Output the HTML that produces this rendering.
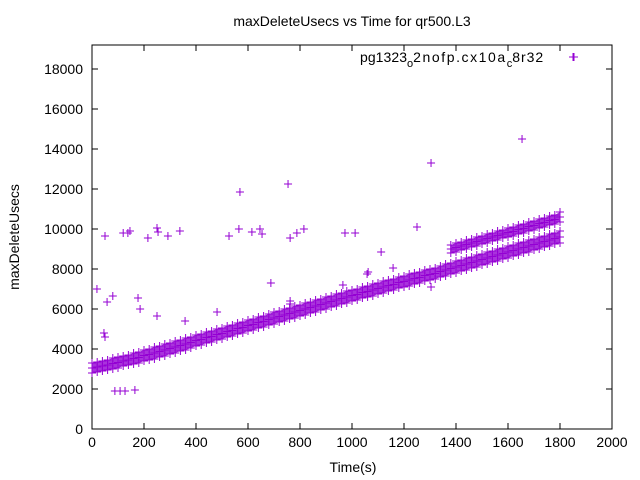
<!DOCTYPE html>
<html><head><meta charset="utf-8"><style>
body{margin:0;background:#fff}
svg{display:block;font-family:"Liberation Sans",sans-serif}
</style></head><body>
<svg id="c" width="640" height="480" viewBox="0 0 640 480">
<rect width="640" height="480" fill="#fff"/>
<text x="352" y="26" font-size="14" text-anchor="middle">maxDeleteUsecs vs Time for qr500.L3</text>
<text x="353" y="472" font-size="14" text-anchor="middle">Time(s)</text>
<text transform="translate(19,237) rotate(-90)" font-size="14" text-anchor="middle">maxDeleteUsecs</text>
<g id="ax"></g>
<g id="marks"></g>
<g>
<text x="360" y="62" font-size="14"><tspan textLength="47">pg1323</tspan><tspan font-size="11" dy="5">o</tspan><tspan dy="-5" textLength="92">2nofp.cx10a</tspan><tspan font-size="11" dy="5">c</tspan><tspan dy="-5" textLength="31">8r32</tspan></text>
<path d="M570,57h8M574,53v8" stroke="#9400d3" stroke-width="1"/>
</g>
</svg>
<script>
const xTicks=[0,200,400,600,800,1000,1200,1400,1600,1800,2000];
const yTicks=[0,2000,4000,6000,8000,10000,12000,14000,16000,18000];
const bandT=[0,20,40,60,80,100,120,140,160,180,200,220,240,260,280,300,320,340,360,380,400,420,440,460,480,500,520,540,560,580,600,620,640,660,680,700,720,740,760,780,800,820,840,860,880,900,920,940,960,980,1000,1020,1040,1060,1080,1100,1120,1140,1160,1180,1200,1220,1240,1260,1280,1300,1320,1340,1360,1380,1400,1420,1440,1460,1480,1500,1520,1540,1560,1580,1600,1620,1640,1660,1680,1700,1720,1740,1760,1780,1800];
const bandLo=[2800,2850,2900,2950,3000,3050,3150,3200,3250,3300,3400,3450,3500,3600,3650,3750,3800,3900,3950,4050,4150,4200,4300,4350,4450,4500,4600,4650,4750,4800,4900,4950,5050,5100,5200,5250,5350,5400,5500,5550,5650,5700,5800,5850,5950,6000,6100,6150,6250,6300,6400,6450,6550,6600,6650,6750,6800,6900,6950,7050,7100,7150,7250,7300,7400,7450,7500,7600,7650,7750,7800,7900,7950,8050,8100,8200,8250,8350,8400,8500,8550,8650,8700,8800,8850,8950,9000,9100,9150,9250,9300];
const bandHi=[3300,3350,3400,3450,3550,3600,3650,3700,3800,3850,3950,4000,4100,4150,4250,4300,4400,4450,4550,4600,4700,4750,4850,4900,5000,5050,5150,5200,5300,5350,5450,5500,5600,5650,5750,5850,5900,6000,6050,6150,6200,6300,6350,6450,6500,6600,6650,6750,6800,6900,6950,7000,7100,7150,7250,7300,7400,7450,7500,7600,7650,7750,7800,7850,7950,8000,8050,8150,8250,8300,8400,8450,8550,8600,8700,8750,8850,8900,9000,9050,9150,9200,9300,9350,9450,9500,9600,9650,9750,9800,9900];
const upT=[1380,1400,1420,1440,1460,1480,1500,1520,1540,1560,1580,1600,1620,1640,1660,1680,1700,1720,1740,1760,1780,1800];
const upLo=[8800,8850,8950,9000,9100,9150,9250,9300,9400,9450,9550,9600,9650,9750,9800,9900,9950,10050,10100,10200,10250,10350];
const upHi=[9200,9300,9350,9450,9500,9600,9650,9750,9800,9900,9950,10050,10100,10200,10250,10350,10400,10500,10550,10650,10700,10850];
const outT=[50,19,58,80,46,50,88,108,127,165,120,138,146,177,185,215,254,250,250,292,338,358,527,565,569,615,646,654,688,754,762,788,815,973,1012,1112,1062,1058,1158,1250,1304,1304,1654,481,762,762,965,1850];
const outV=[9650,7000,6350,6650,4800,4600,1900,1900,1900,1950,9800,9800,9900,6550,6000,9550,9850,10050,5650,9650,9900,5400,9650,10000,11850,9850,10000,9750,7300,12250,9550,9800,10000,9800,9800,8850,7850,7750,8050,10100,13300,7100,14500,5850,6400,6250,7200,18600];
const X0=92,X1=612,Y0=429,Y1=45;
const xs=t=>X0+t*(X1-X0)/2000;
const ys=v=>Y0-v*(Y0-69)/18000;
const NS='http://www.w3.org/2000/svg';
const ax=document.getElementById('ax'),mk=document.getElementById('marks');
function el(tag,attrs,parent){const e=document.createElementNS(NS,tag);for(const k in attrs)e.setAttribute(k,attrs[k]);parent.appendChild(e);return e;}
const fr=el('rect',{x:X0,y:Y1,width:X1-X0,height:Y0-Y1,fill:'none',stroke:'#000','stroke-width':1},ax);


xTicks.forEach(t=>{const x=xs(t);
 const p=el('path',{d:`M${x},${Y0}v-6M${x},${Y1}v6`,stroke:'#000'},ax);
 
 
 const tx=el('text',{x:x,y:Y0+18,'font-size':14,'text-anchor':'middle'},ax);tx.textContent=t;
 
 });
yTicks.forEach(v=>{const y=ys(v);
 const p=el('path',{d:`M${X0},${y}h6M${X1},${y}h-6`,stroke:'#000'},ax);
 
 
 const tx=el('text',{x:X0-9,y:y+5,'font-size':14,'text-anchor':'end'},ax);tx.textContent=v;
 
 });
const C='#9400d3';
function band(T,L,H,name){
 let d='M'+T.map((t,i)=>xs(t)+','+ys(H[i])).join('L')+'L'+T.map((t,i)=>xs(t)+','+ys(L[i])).reverse().join('L')+'Z';
 const p=el('path',{d:d,fill:C,'fill-opacity':0.8},mk);
 
 
 T.forEach((t,i)=>{[L[i],(L[i]+H[i])/2,H[i]].forEach(v=>plus(t,v));});
}
function plus(t,v){const x=xs(t),y=ys(v);
 const p=el('path',{d:`M${x-4},${y}h8M${x},${y-4}v8`,stroke:C,'stroke-width':1},mk);
 
 }
band(bandT,bandLo,bandHi,'main-band');
band(upT,upLo,upHi,'upper-band');
outT.forEach((t,i)=>plus(t,outV[i]));
</script>
</body></html>
